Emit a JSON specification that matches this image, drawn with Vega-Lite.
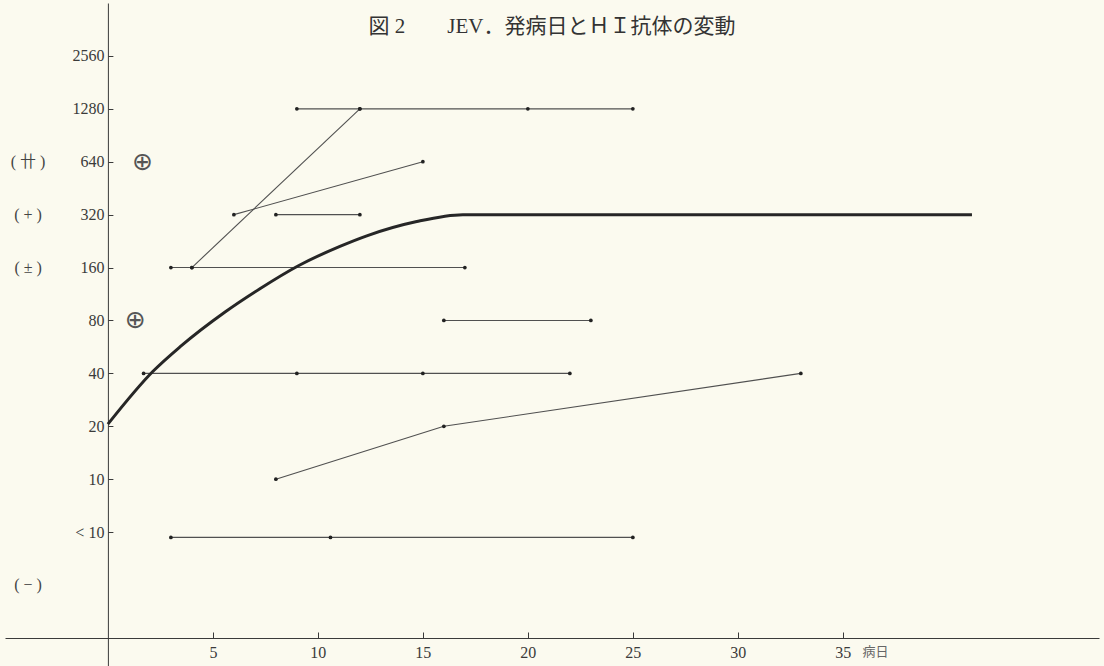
{
  "$schema": "https://vega.github.io/schema/vega-lite/v6.json",
  "width": 1094,
  "height": 663,
  "autosize": {"type": "none"},
  "padding": {"left": 5, "top": 3, "right": 5, "bottom": 0},
  "background": "#fbfaef",
  "config": {"view": {"stroke": null}, "font": "Liberation Serif, Noto Sans CJK JP"},
  "title": {
    "text": "図 2　　JEV．発病日とＨＩ抗体の変動",
    "font": "Liberation Serif, Noto Sans CJK JP",
    "fontSize": 21,
    "fontWeight": "normal",
    "color": "#333333",
    "anchor": "middle",
    "baseline": "middle",
    "offset": -25,
    "dy": 20
  },
  "datasets": {
    "patients": [
      {"id": "a", "day": 9, "level": 9}, {"id": "a", "day": 12, "level": 9}, {"id": "a", "day": 20, "level": 9}, {"id": "a", "day": 25, "level": 9},
      {"id": "b", "day": 4, "level": 6}, {"id": "b", "day": 12, "level": 9},
      {"id": "c", "day": 3, "level": 6}, {"id": "c", "day": 4, "level": 6}, {"id": "c", "day": 17, "level": 6},
      {"id": "d", "day": 6, "level": 7}, {"id": "d", "day": 15, "level": 8},
      {"id": "e", "day": 8, "level": 7}, {"id": "e", "day": 12, "level": 7},
      {"id": "f", "day": 16, "level": 5}, {"id": "f", "day": 23, "level": 5},
      {"id": "g", "day": 1.7, "level": 4}, {"id": "g", "day": 9, "level": 4}, {"id": "g", "day": 15, "level": 4}, {"id": "g", "day": 22, "level": 4},
      {"id": "h", "day": 8, "level": 2}, {"id": "h", "day": 16, "level": 3}, {"id": "h", "day": 33, "level": 4},
      {"id": "i", "day": 3, "level": 0.9}, {"id": "i", "day": 10.6, "level": 0.9}, {"id": "i", "day": 25, "level": 0.9}
    ],
    "curve": [
      {"day": 0, "level": 3.04}, {"day": 2.15, "level": 4.04}, {"day": 3.43, "level": 4.5},
      {"day": 5.58, "level": 5.16}, {"day": 7.24, "level": 5.6}, {"day": 9.05, "level": 6.03},
      {"day": 11.05, "level": 6.4}, {"day": 12.33, "level": 6.6}, {"day": 14.71, "level": 6.87},
      {"day": 16.9, "level": 7.0}, {"day": 41.15, "level": 7.0}
    ],
    "marks": [
      {"day": 1.65, "level": 8, "sym": "⊕"},
      {"day": 1.3, "level": 5, "sym": "⊕"}
    ],
    "grades": [
      {"day": -3.8, "level": 8, "grade": "( 卄 )"},
      {"day": -3.8, "level": 7, "grade": "( + )"},
      {"day": -3.8, "level": 6, "grade": "( ± )"},
      {"day": -3.8, "level": 0, "grade": "( − )"}
    ]
  },
  "encoding": {
    "x": {
      "field": "day", "type": "quantitative",
      "scale": {"domain": [-4.9, 47.2], "nice": false, "zero": false},
      "axis": {
        "values": [5, 10, 15, 20, 25, 30, 35],
        "offset": -28, "tickSize": -6, "labelPadding": 12,
        "grid": false, "domainColor": "#3a3a3a", "tickColor": "#3a3a3a",
        "labelColor": "#3a3a3a", "labelFontSize": 16, "labelFont": "Liberation Serif",
        "labelFlush": false,
        "title": "病日", "titleX": 857, "titleY": 13, "titleAlign": "left", "titleBaseline": "middle",
        "titleFontSize": 13, "titleFontWeight": "normal", "titleColor": "#666666",
        "titleFont": "Noto Sans CJK JP"
      }
    },
    "y": {
      "field": "level", "type": "quantitative",
      "scale": {"domain": [-1.53, 11], "nice": false, "zero": false},
      "axis": {
        "values": [1, 2, 3, 4, 5, 6, 7, 8, 9, 10],
        "labelExpr": "datum.value == 1 ? '< 10' : format(5 * pow(2, datum.value - 1), 'd')",
        "offset": -102.9, "tickSize": -5, "labelPadding": 9,
        "grid": false, "domainColor": "#3a3a3a", "tickColor": "#3a3a3a",
        "labelColor": "#3a3a3a", "labelFontSize": 16, "labelFont": "Liberation Serif",
        "labelFlush": false, "title": null
      }
    }
  },
  "layer": [
    {
      "data": {"name": "patients"},
      "mark": {"type": "line", "color": "#505050", "strokeWidth": 1.1},
      "encoding": {"detail": {"field": "id", "type": "nominal"}}
    },
    {
      "data": {"name": "patients"},
      "mark": {"type": "circle", "color": "#222222", "size": 14, "opacity": 1}
    },
    {
      "data": {"name": "curve"},
      "mark": {"type": "line", "color": "#262626", "strokeWidth": 3, "interpolate": "monotone"}
    },
    {
      "data": {"name": "marks"},
      "mark": {"type": "text", "font": "DejaVu Sans", "fontSize": 25, "color": "#555555", "align": "center", "baseline": "middle"},
      "encoding": {"text": {"field": "sym"}}
    },
    {
      "data": {"name": "grades"},
      "mark": {"type": "text", "fontSize": 16, "color": "#444444", "align": "center", "baseline": "middle"},
      "encoding": {"text": {"field": "grade"}}
    }
  ]
}
